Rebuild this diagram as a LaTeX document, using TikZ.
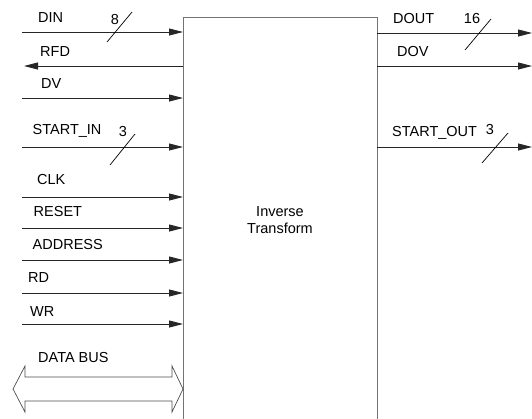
\documentclass[tikz,border=0pt]{standalone}
\usepackage{fontspec}
\setmainfont{Liberation Sans}
\usetikzlibrary{arrows.meta}
\begin{document}
\begin{tikzpicture}[x=1pt,y=-1pt,
  font=\fontsize{14.5}{16.5}\selectfont,
  sig/.style={draw=black!85, line width=0.9pt, -{Triangle[length=14pt,width=7pt]}},
  boxline/.style={draw=black!55, line width=1pt},
  lbl/.style={anchor=west, inner sep=0pt},
  num/.style={inner sep=0pt},
  slash/.style={draw=black, line width=0.7pt},
  bus/.style={draw=black!70, line width=0.7pt}]
\useasboundingbox (0,0) rectangle (532,418);
% block
\node[minimum width=194pt, minimum height=410pt, inner sep=0pt, anchor=north west] (box) at (183,17) {};
\draw[boxline] (box.south west) -- (box.north west) -- (box.north east) -- (box.south east);
\node[align=center, inner sep=0pt] (title) at (280,220) {Inverse\\Transform};
% left-side coordinates
\foreach \n/\y in {din/32, rfd/66, dv/98, startin/147, clk/197, reset/228, addr/260, rd/293, wr/324} {
  \coordinate (\n L) at (22,\y);
  \coordinate (\n B) at (183,\y);
}
\coordinate (rfdT) at (24,66);
\draw[sig] (dinL) -- (dinB);
\draw[sig] (rfdB) -- (rfdT);
\draw[sig] (dvL) -- (dvB);
\draw[sig] (startinL) -- (startinB);
\draw[sig] (clkL) -- (clkB);
\draw[sig] (resetL) -- (resetB);
\draw[sig] (addrL) -- (addrB);
\draw[sig] (rdL) -- (rdB);
\draw[sig] (wrL) -- (wrB);
% right-side
\foreach \n/\y in {dout/33, dov/66, startout/147} {
  \coordinate (\n B) at (377,\y);
  \coordinate (\n R) at (532,\y);
}
\draw[sig] (doutB) -- (doutR);
\draw[sig] (dovB) -- (dovR);
\draw[sig] (startoutB) -- (startoutR);
% labels
\node[lbl] (tdin) at (38,17.5) {DIN};
\node[lbl] (trfd) at (40,51.5) {RFD};
\node[lbl] (tdv) at (41,84) {DV};
\node[lbl] (tstartin) at (32.5,131) {START\_IN};
\node[lbl] (tclk) at (37,180) {CLK};
\node[lbl] (treset) at (33.5,212) {RESET};
\node[lbl] (taddr) at (32.5,245) {ADDRESS};
\node[lbl] (trd) at (28,277.5) {RD};
\node[lbl] (twr) at (30,312) {WR};
\node[lbl] (tbus) at (38,358) {DATA BUS};
\node[lbl] (tdout) at (393,18.5) {DOUT};
\node[lbl] (tdov) at (397,52) {DOV};
\node[lbl] (tstartout) at (392,133) {START\_OUT};
% bus widths
\node[num] (n8) at (115,19.5) {8};
\node[num] (n3a) at (123,132) {3};
\node[num] (n16) at (472,19) {16};
\node[num] (n3b) at (490,130) {3};
\coordinate (s1a) at (107,42); \coordinate (s1b) at (132,12);
\coordinate (s2a) at (110,165); \coordinate (s2b) at (135,134);
\coordinate (s3a) at (465,50); \coordinate (s3b) at (491,19);
\coordinate (s4a) at (482,163); \coordinate (s4b) at (508,133);
\draw[slash] (s1a) -- (s1b);
\draw[slash] (s2a) -- (s2b);
\draw[slash] (s3a) -- (s3b);
\draw[slash] (s4a) -- (s4b);
% data bus double arrow
\draw[bus] (13,389) -- (25,366) -- (25,377) -- (172,377) -- (172,366) -- (183,389)
  -- (172,412) -- (172,401) -- (25,401) -- (25,412) -- cycle;
\end{tikzpicture}
\end{document}
